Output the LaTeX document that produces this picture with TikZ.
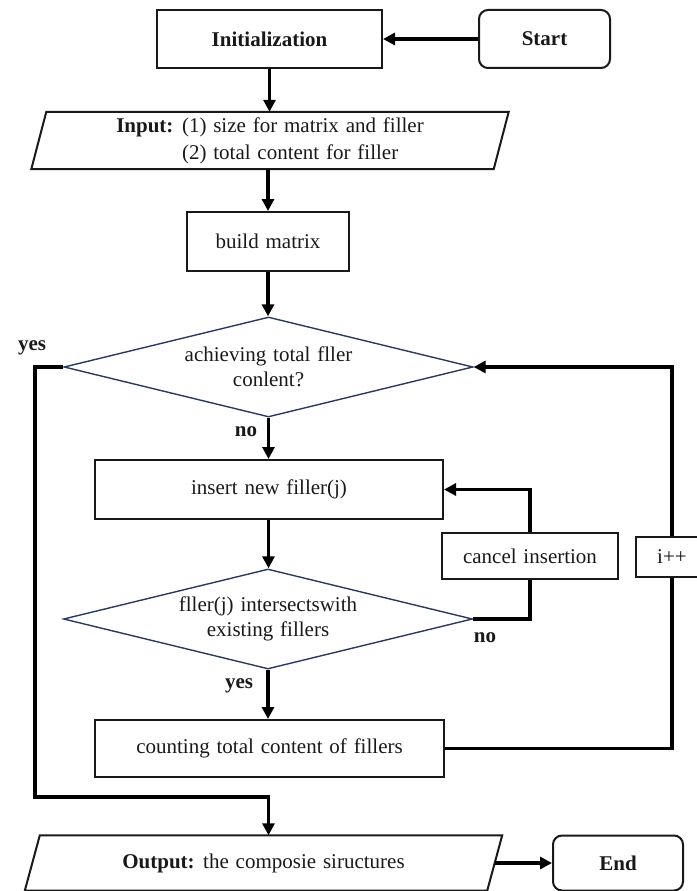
\documentclass[tikz,border=0pt]{standalone}
\usepackage{fontspec}
\setmainfont[WordSpace=1.3]{Liberation Serif}
\usetikzlibrary{arrows.meta,shapes.geometric}
\definecolor{navy}{RGB}{40,58,98}
\definecolor{ink}{RGB}{25,25,25}
\begin{document}
\begin{tikzpicture}[x=1pt,y=-1pt,
  every node/.style={font=\fontsize{21}{25}\selectfont, inner sep=0pt, text=ink},
  box/.style={draw=ink, line width=2pt},
  rbox/.style={draw=ink, line width=2pt, rounded corners=9pt},
  dec/.style={diamond, draw=navy, line width=1.4pt, aspect=4, minimum width=409, minimum height=100},
  outline/.style={draw=ink, line width=2pt},
  lab/.style={font=\fontsize{21}{25}\selectfont\bfseries},
  wire/.style={draw=black, line width=3.6pt},
  conn/.style={draw=black, line width=3.6pt, -{Triangle[length=12pt,width=12pt]}}]
\useasboundingbox (0,0) rectangle (696,891);

% nodes
\node[box, minimum width=225, minimum height=58] (init) at (269.5,39) {\textbf{Initialization}};
\node[rbox, minimum width=131, minimum height=58] (start) at (544.5,39) {\textbf{Start}};
\node[minimum width=462, minimum height=57, align=left, font=\fontsize{21}{27}\selectfont] (inp) at (270,140.5)
  {\textbf{Input:} (1) size for matrix and filler\\\phantom{\textbf{Input:} }(2) total content for filler};
\draw[outline] ([xshift=7.5]inp.north west) -- ([xshift=7.5]inp.north east) -- ([xshift=-7.5]inp.south east) -- ([xshift=-7.5]inp.south west) -- cycle;
\node[box, minimum width=162, minimum height=59] (build) at (268,241.5) {build matrix};
\node[dec, align=center] (d1) at (268.5,367) {achieving total fller\\conlent?};
\node[box, minimum width=348, minimum height=59] (insert) at (269,489.5) {insert new filler(j)};
\node[dec, align=center] (d2) at (268,619) {fller(j) intersectswith\\existing fillers};
\node[box, minimum width=176, minimum height=46] (cancel) at (530,556) {cancel insertion};
\node[box, minimum width=349, minimum height=57] (count) at (269.5,748.5) {counting total content of fillers};
\node[minimum width=462, minimum height=55] (out) at (263.5,863) {\textbf{Output:} the composie siructures};
\draw[outline] ([xshift=7.5]out.north west) -- ([xshift=7.5]out.north east) -- ([xshift=-7.5]out.south east) -- ([xshift=-7.5]out.south west) -- cycle;
\node[rbox, minimum width=130, minimum height=55] (end) at (618,863) {\textbf{End}};

% labels
\node[lab] (yes1) at (32,348) {yes};
\node[lab] (no1) at (246,432) {no};
\node[lab] (no2) at (485,638) {no};
\node[lab] (yes2) at (239,686) {yes};

% connectors
\draw[conn] (start.west) -- (init.east);
\draw[conn] (init.south) -- (init.south |- inp.north);
\draw[conn] (build.north |- inp.south) -- (build.north);
\draw[conn] (build.south) -- (build.south |- d1.north);
\draw[conn] (d1.south) -- (d1.south |- insert.north);
\draw[conn] (d1.south |- insert.south) -- (d1.south |- d2.north);
\draw[conn] (d2.south) -- (d2.south |- count.north);
\coordinate (yl) at (35,797);
\draw[conn] (d1.west) -| (yl) -- (yl -| d1.south) -- (d1.south |- out.north);
\coordinate (rl) at (672,748.5);
\draw[conn] (count.east) -- (rl) |- (d1.east);
\draw[wire] (d2.east) -| (cancel.south);
\draw[conn] (cancel.north) |- (insert.east);
\draw[conn] (out.east) -- (end.west);

\node[box, fill=white, minimum width=72, minimum height=40] (ipp) at (672,557) {i++};
\end{tikzpicture}
\end{document}
